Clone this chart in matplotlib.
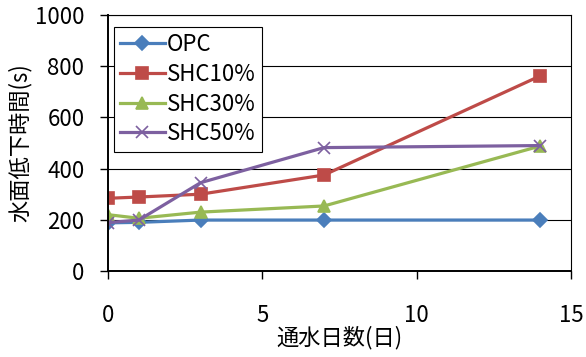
import matplotlib
matplotlib.use('Agg')
import matplotlib.pyplot as plt

plt.rcParams['font.family'] = ['Noto Sans CJK JP', 'DejaVu Sans']

days = [0, 1, 3, 7, 14]
opc = [188, 190, 199, 199, 199]
shc10 = [284, 289, 300, 375, 762]
shc30 = [220, 206, 230, 254, 488]
shc50 = [189, 199, 345, 482, 490]

series = [
    ('OPC', opc, '#4A7EBB', 'D', 7),
    ('SHC10%', shc10, '#BE4B48', 's', 8),
    ('SHC30%', shc30, '#98B954', '^', 8),
    ('SHC50%', shc50, '#7D60A0', 'x', 9),
]

fig = plt.figure(figsize=(5.86, 3.57), dpi=100)
ax = fig.add_axes([0.1843, 0.2409, 0.7901, 0.7171])

for name, vals, color, marker, ms in series:
    ax.plot(days, vals, color=color, lw=2.3, marker=marker, ms=ms,
            mew=1.2, label=name)

ax.set_xlim(0, 15)
ax.set_ylim(0, 1000)
ax.set_xticks([0, 5, 10, 15])
ax.set_yticks(range(0, 1001, 200))
ax.yaxis.grid(True, color='black', lw=0.8)
ax.set_axisbelow(True)
for side in ['left', 'bottom']:
    ax.spines[side].set_linewidth(1.4)
for side in ['top', 'right']:
    ax.spines[side].set_linewidth(0.8)
ax.tick_params(axis='y', direction='out', length=6, width=1, pad=11,
               labelsize=16)
ax.tick_params(axis='x', direction='out', length=6, width=1, pad=18,
               labelsize=16)

ax.set_xlabel('通水日数(日)', fontsize=16, labelpad=-1)
ax.set_ylabel('水面低下時間(s)', fontsize=16, labelpad=2)

leg = ax.legend(loc='upper left', bbox_to_anchor=(0.012, 0.955), fontsize=16,
                handlelength=2.0, handletextpad=0.1, labelspacing=0.3,
                borderpad=0.3, fancybox=False, framealpha=1,
                borderaxespad=0)
leg.get_frame().set_edgecolor('black')
leg.get_frame().set_linewidth(0.8)

fig.savefig('out.png', dpi=100)
